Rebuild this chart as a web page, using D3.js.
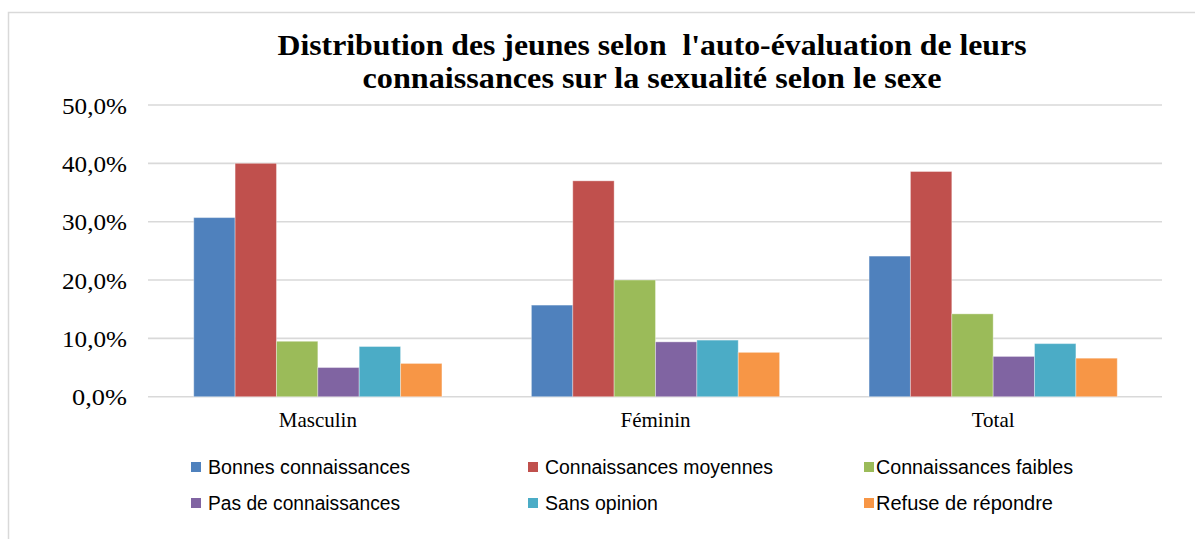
<!DOCTYPE html>
<html>
<head>
<meta charset="utf-8">
<script src="https://cdn.jsdelivr.net/npm/d3@7"></script>
<style>
  html, body { margin: 0; padding: 0; background: #fff; }
  svg { display: block; }
</style>
</head>
<body>
<svg id="chart" width="1195" height="539"></svg>
<script>
const categories = ["Masculin", "Féminin", "Total"];
const seriesNames = ["Bonnes connaissances", "Connaissances moyennes", "Connaissances faibles",
                     "Pas de connaissances", "Sans opinion", "Refuse de répondre"];
const bonnes    = [0.307, 0.157, 0.241];
const moyennes  = [0.400, 0.370, 0.386];
const faibles   = [0.095, 0.200, 0.142];
const pas       = [0.050, 0.094, 0.069];
const sansOp    = [0.086, 0.097, 0.091];
const refuse    = [0.057, 0.076, 0.066];
const seriesValues = [bonnes, moyennes, faibles, pas, sansOp, refuse];
const yTicks = [0, 0.1, 0.2, 0.3, 0.4, 0.5];
const colors = ["#4F81BD", "#C0504D", "#9BBB59", "#8064A2", "#4BACC6", "#F79646"];
const titleLines = ["Distribution des jeunes selon  l'auto-évaluation de leurs",
                    "connaissances sur la sexualité selon le sexe"];

const svg = d3.select("#chart");

// outer frame (top & left visible)
svg.append("path")
  .attr("d", "M8.5,539 L8.5,12.5 L1195,12.5")
  .attr("fill", "none").attr("stroke", "#d9d9d9").attr("stroke-width", 1.5);

const plotLeft = 149, plotRight = 1162, plotTop = 105, plotBottom = 396.7;

const x0 = d3.scaleBand().domain(categories).range([plotLeft, plotRight])
  .paddingInner(0.265).paddingOuter(0.1325);
const x1 = d3.scaleBand().domain(seriesNames).range([0, x0.bandwidth()]);
const y = d3.scaleLinear().domain([0, 0.5]).range([plotBottom, plotTop]);

const fmt = v => d3.format(".1f")(v * 100).replace(".", ",") + "%";

// gridlines
svg.append("g").selectAll("line").data(yTicks).join("line")
  .attr("x1", plotLeft - 1).attr("x2", plotRight)
  .attr("y1", d => y(d)).attr("y2", d => y(d))
  .attr("stroke", "#d9d9d9").attr("stroke-width", 1.6);

// y axis labels
const yAxis = d3.axisLeft(y).tickValues(yTicks).tickFormat(fmt).tickSize(0).tickPadding(0);
const gy = svg.append("g").attr("transform", "translate(127,0)").call(yAxis);
gy.select(".domain").remove();
gy.selectAll("text")
  .attr("font-family", "'Liberation Serif', 'DejaVu Serif', serif")
  .attr("font-size", 23).attr("fill", "#000").attr("dy", "0.35em")
  .attr("textLength", d => (d === 0 ? 55 : 65)).attr("lengthAdjust", "spacingAndGlyphs");

// bars
const groups = svg.append("g").selectAll("g").data(categories).join("g")
  .attr("transform", d => `translate(${x0(d)},0)`);
groups.selectAll("rect")
  .data((c, ci) => seriesNames.map((s, si) => ({ s, si, v: seriesValues[si][ci] })))
  .join("rect")
  .attr("x", d => x1(d.s))
  .attr("width", x1.bandwidth())
  .attr("y", d => y(d.v))
  .attr("height", d => y(0) - y(d.v))
  .attr("fill", d => colors[d.si])
  .attr("stroke", "rgba(255,255,255,0.35)").attr("stroke-width", 1);

// x axis labels
const xAxis = d3.axisBottom(x0).tickSize(0).tickPadding(0);
const gx = svg.append("g").attr("transform", `translate(0,${plotBottom})`).call(xAxis);
gx.select(".domain").remove();
gx.selectAll("text")
  .attr("font-family", "'Liberation Serif', 'DejaVu Serif', serif")
  .attr("font-size", 21).attr("fill", "#000").attr("dy", null).attr("y", 30);

// title
svg.append("g").selectAll("text").data(titleLines).join("text")
  .attr("x", 652).attr("y", (d, i) => 55 + i * 33)
  .attr("text-anchor", "middle")
  .attr("font-family", "'Liberation Serif', 'DejaVu Serif', serif")
  .attr("font-weight", "bold").attr("font-size", 30).attr("fill", "#000")
  .attr("xml:space", "preserve").style("white-space", "pre")
  .attr("textLength", (d, i) => [749, 579][i])
  .attr("lengthAdjust", "spacingAndGlyphs")
  .text(d => d);

// legend
const legCols = [191, 528, 864];
const legRows = [467, 503];
const legWidths = [202, 228, 197, 192, 113, 177];
const leg = svg.append("g").selectAll("g").data(seriesNames).join("g")
  .attr("transform", (d, i) => `translate(${legCols[i % 3]},${legRows[Math.floor(i / 3)]})`);
leg.append("rect").attr("x", 0).attr("y", -5).attr("width", 10).attr("height", 10)
  .attr("fill", (d, i) => colors[i]);
leg.append("text").attr("x", (d, i) => (i % 3 === 2 ? 12 : 17)).attr("y", 7)
  .attr("font-family", "'Liberation Sans Narrow', 'Liberation Sans', 'Noto Sans', sans-serif")
  .attr("font-size", 20).attr("fill", "#000")
  .attr("textLength", (d, i) => legWidths[i])
  .attr("lengthAdjust", "spacingAndGlyphs")
  .text(d => d);
</script>
</body>
</html>
